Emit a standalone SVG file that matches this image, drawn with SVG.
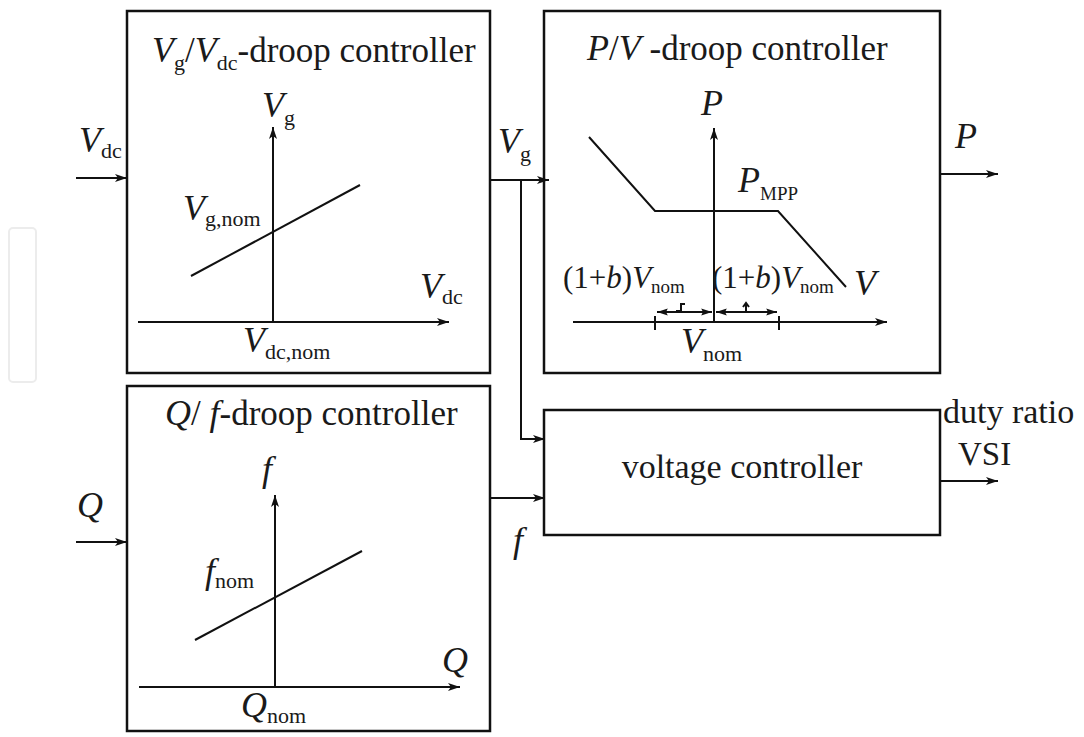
<svg xmlns="http://www.w3.org/2000/svg" width="1084" height="737" viewBox="0 0 1084 737">
<defs>
<marker id="ah" viewBox="0 0 12 10" refX="12" refY="5" markerWidth="13" markerHeight="10" markerUnits="userSpaceOnUse" orient="auto">
<path d="M0,1 L12,5 L0,9 L3,5 Z" fill="#111"/>
</marker>
<marker id="sah" viewBox="0 0 12 10" refX="12" refY="5" markerWidth="11" markerHeight="9" markerUnits="userSpaceOnUse" orient="auto-start-reverse">
<path d="M0,1 L12,5 L0,9 L2,5 Z" fill="#111"/>
</marker>
</defs>
<style>
.t{font-size:35px}
.l{font-size:36px;font-style:italic}
.s{font-size:22px;font-style:normal}
.box{fill:#fff;stroke:#111;stroke-width:2.5}
.ax{stroke:#111;stroke-width:2;fill:none}
.cv{stroke:#111;stroke-width:2;fill:none}
.c{stroke:#111;stroke-width:2;fill:none}
</style>
<rect width="1084" height="737" fill="#fff"/>
<rect x="9" y="228" width="27" height="154" rx="4" fill="none" stroke="#ececec" stroke-width="2"/>
<g font-family="Liberation Serif, Times New Roman, serif" fill="#1a1a1a">

<g id="vg-vdc-droop">
<rect class="box" x="127" y="11" width="363" height="362"/>
<text class="t" x="152" y="62"><tspan font-style="italic" font-size="36">V</tspan><tspan class="s" dy="8">g</tspan><tspan dy="-8">/</tspan><tspan font-style="italic" font-size="36">V</tspan><tspan class="s" dy="8">dc</tspan><tspan dy="-8">-droop controller</tspan></text>
<line class="ax" x1="138" y1="322" x2="449" y2="322" marker-end="url(#ah)"/>
<line class="ax" x1="273" y1="322" x2="273" y2="127" marker-end="url(#ah)"/>
<line class="cv" x1="191" y1="276" x2="360" y2="185"/>
<text class="l" x="262" y="117">V<tspan class="s" dy="8">g</tspan></text>
<text class="l" x="183" y="220">V<tspan class="s" dy="6">g,nom</tspan></text>
<text class="l" x="420" y="298">V<tspan class="s" dy="6">dc</tspan></text>
<text class="l" x="243" y="352">V<tspan class="s" dy="7">dc,nom</tspan></text>
</g>

<g id="pv-droop">
<rect class="box" x="544" y="11" width="396" height="362"/>
<text class="t" x="587" y="60"><tspan font-style="italic" font-size="36">P</tspan>/<tspan font-style="italic" font-size="36">V</tspan> -droop controller</text>
<line class="ax" x1="573" y1="322" x2="887" y2="322" marker-end="url(#ah)"/>
<line class="ax" x1="714" y1="322" x2="714" y2="128" marker-end="url(#ah)"/>
<polyline class="cv" points="589,137 655,211 778,211 846,287"/>
<line class="ax" x1="655" y1="316" x2="655" y2="330"/>
<line class="ax" x1="779" y1="316" x2="779" y2="330"/>
<line class="ax" x1="657" y1="312" x2="712" y2="312" marker-start="url(#sah)" marker-end="url(#sah)" stroke-width="1.5"/>
<line class="ax" x1="716" y1="312" x2="777" y2="312" marker-start="url(#sah)" marker-end="url(#sah)" stroke-width="1.5"/>
<path class="ax" stroke-width="1.5" d="M676,311 L681,311 L681,304 L685,304"/>
<path class="ax" stroke-width="1.5" d="M746,311 L746,304 M743,307 L746,303 L749,307"/>
<text class="l" x="701" y="115">P</text>
<text class="l" x="738" y="192">P<tspan dy="8" style="font-size:19px;font-style:normal">MPP</tspan></text>
<text class="l" x="854" y="295">V</text>
<text class="l" x="563" y="288" style="font-size:31px"><tspan font-style="normal">(1+</tspan>b<tspan font-style="normal">)</tspan>V<tspan dy="5" style="font-size:19px;font-style:normal">nom</tspan></text>
<text class="l" x="712" y="288" style="font-size:31px"><tspan font-style="normal">(1+</tspan>b<tspan font-style="normal">)</tspan>V<tspan dy="5" style="font-size:19px;font-style:normal">nom</tspan></text>
<text class="l" x="681" y="353">V<tspan class="s" dy="8">nom</tspan></text>
</g>

<g id="qf-droop">
<rect class="box" x="127" y="386" width="363" height="345"/>
<text class="t" x="165" y="425"><tspan font-style="italic" font-size="36">Q</tspan>/ <tspan font-style="italic" font-size="36">f</tspan>-droop controller</text>
<line class="ax" x1="139" y1="687" x2="460" y2="687" marker-end="url(#ah)"/>
<line class="ax" x1="275" y1="687" x2="275" y2="495" marker-end="url(#ah)"/>
<line class="cv" x1="195" y1="640" x2="362" y2="551"/>
<text class="l" x="262" y="481">f</text>
<text class="l" x="205" y="583">f<tspan class="s" dy="5">nom</tspan></text>
<text class="l" x="442" y="672">Q</text>
<text class="l" x="241" y="717">Q<tspan class="s" dy="6">nom</tspan></text>
</g>

<g id="voltage-controller">
<rect class="box" x="544" y="410" width="396" height="125"/>
<text class="t" x="742" y="478" text-anchor="middle" style="font-size:34px">voltage controller</text>
</g>

<g id="connectors">
<line class="c" x1="76" y1="178" x2="127" y2="178" marker-end="url(#ah)"/>
<line class="c" x1="76" y1="542" x2="127" y2="542" marker-end="url(#ah)"/>
<line class="c" x1="490" y1="180" x2="549" y2="180" marker-end="url(#ah)"/>
<polyline class="c" points="521,180 521,439 545,439" marker-end="url(#ah)"/>
<line class="c" x1="490" y1="498" x2="545" y2="498" marker-end="url(#ah)"/>
<line class="c" x1="940" y1="174" x2="998" y2="174" marker-end="url(#ah)"/>
<line class="c" x1="940" y1="481" x2="998" y2="481" marker-end="url(#ah)"/>
</g>

<g id="labels">
<text class="l" x="79" y="152">V<tspan class="s" dy="6">dc</tspan></text>
<text class="l" x="77" y="517">Q</text>
<text class="l" x="498" y="153">V<tspan class="s" dy="8">g</tspan></text>
<text class="l" x="513" y="552">f</text>
<text class="l" x="955" y="148">P</text>
<text class="t" x="943" y="423" style="font-size:34px">duty ratio</text>
<text class="t" x="958" y="465" style="font-size:33px">VSI</text>
</g>
</g>
</svg>
